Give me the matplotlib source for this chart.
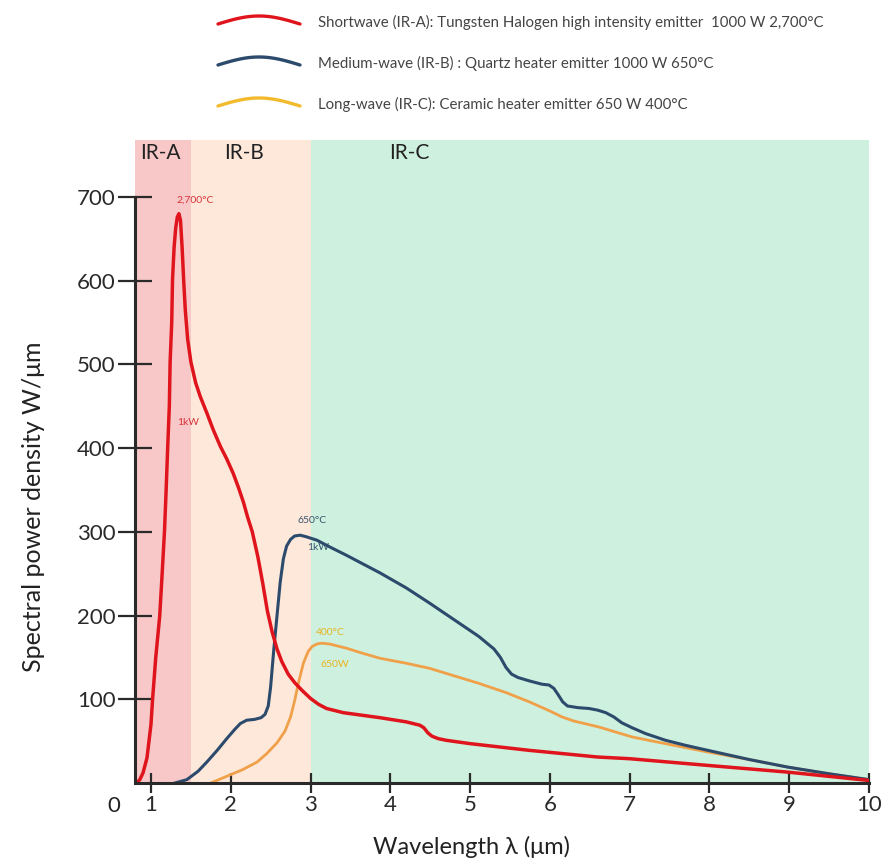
import matplotlib
matplotlib.use("Agg")
import matplotlib.pyplot as plt
import numpy as np

plt.rcParams['font.family'] = ['Lato', 'DejaVu Sans']

# data (wavelength in um, power density in W/um)
red_x = [0.82, 0.86, 0.9, 0.95, 1.0, 1.02, 1.06, 1.11, 1.14, 1.17, 1.19, 1.21, 1.23,
         1.24, 1.26, 1.27, 1.29, 1.31, 1.33, 1.35, 1.37, 1.39, 1.41, 1.43, 1.46, 1.5,
         1.56, 1.62, 1.7, 1.78, 1.87, 1.95, 2.03, 2.1, 2.16, 2.21, 2.27, 2.34, 2.40,
         2.46, 2.52, 2.58, 2.64, 2.72, 2.8, 2.9, 3.0, 3.1, 3.2, 3.41, 3.87, 4.2, 4.37,
         4.42, 4.47, 4.52, 4.6, 4.7, 5.0, 5.74, 6.6, 7.0, 7.98, 8.98, 10.0]
red_y = [0, 4, 12, 30, 70, 100, 150, 200, 250, 302, 350, 402, 450,
         503, 550, 601, 640, 663, 676, 680, 672, 640, 600, 565, 530, 503,
         478, 461, 442, 422, 402, 387, 370, 352, 335, 318, 300, 270, 239,
         205, 180, 160, 145, 130, 120, 110, 101, 94, 89, 84, 78, 73, 69,
         66, 60, 56, 53, 51, 47, 39, 31, 29, 21, 13, 3]

blue_x = [1.3, 1.45, 1.59, 1.7, 1.83, 1.95, 2.05, 2.12, 2.2, 2.3, 2.38, 2.43, 2.47,
          2.5, 2.54, 2.58, 2.62, 2.66, 2.70, 2.75, 2.8, 2.87, 2.95, 3.08, 3.24, 3.45,
          3.87, 4.2, 4.49, 4.8, 5.11, 5.3, 5.38, 5.45, 5.52, 5.6, 5.74, 5.9, 5.99,
          6.05, 6.1, 6.16, 6.22, 6.35, 6.49, 6.6, 6.7, 6.8, 6.9, 7.03, 7.2, 7.45,
          7.7, 7.98, 8.5, 8.98, 9.5, 10.0]
blue_y = [0, 4, 14, 25, 39, 53, 64, 71, 75, 76, 78, 82, 92,
          115, 160, 200, 240, 268, 283, 291, 295, 296, 294, 290, 282, 272,
          251, 233, 215, 195, 175, 160, 150, 138, 130, 126, 122, 118, 117,
          113, 106, 97, 92, 90, 89, 87, 84, 79, 72, 66, 59, 51,
          45, 39, 28, 19, 11, 4]

orange_x = [1.75, 1.9, 2.0, 2.15, 2.33, 2.45, 2.58, 2.68, 2.75, 2.8, 2.85, 2.91, 2.97,
            3.02, 3.08, 3.14, 3.24, 3.45, 3.65, 3.87, 4.2, 4.49, 4.8, 5.11, 5.45, 5.74,
            6.0, 6.15, 6.3, 6.61, 7.03, 7.5, 7.98, 8.5, 8.98, 9.5, 10.0]
orange_y = [0, 6, 10, 16, 25, 35, 48, 62, 79, 98, 120, 143, 157,
            163, 166, 167, 166, 161, 155, 149, 143, 137, 128, 119, 108, 97,
            86, 79, 74, 67, 55, 46, 37, 28, 19, 11, 4]

# infrared bands
band_names = ['IR-A', 'IR-B', 'IR-C']
band_edges = [0.8, 1.5, 3.0, 10.0]
band_label_x = [1.12, 2.17, 4.24]
band_colors = ['#f8c8c8', '#fde8da', '#cef0de']

legend_labels = ['Shortwave (IR-A): Tungsten Halogen high intensity emitter  1000 W 2,700°C',
                 'Medium-wave (IR-B) : Quartz heater emitter 1000 W 650°C',
                 'Long-wave (IR-C): Ceramic heater emitter 650 W 400°C']
legend_colors = ['#e0141c', '#2c4a6c', '#f2bb2e']

x_ticks = [1, 2, 3, 4, 5, 6, 7, 8, 9, 10]
y_ticks = [100, 200, 300, 400, 500, 600, 700]

fig = plt.figure(figsize=(8.93, 8.67), dpi=100)
ax = fig.add_axes([0.1512, 0.0969, 0.8219, 0.7416])

for i in range(3):
    ax.axvspan(band_edges[i], band_edges[i + 1], color=band_colors[i], lw=0, zorder=0)
    ax.text(band_label_x[i], 753, band_names[i], ha='center', va='center', fontsize=15,
            color='#222222')

ax.plot(orange_x, orange_y, color='#f0a048', lw=2.0, zorder=3, solid_joinstyle='round')
ax.plot(blue_x, blue_y, color='#2c4a6c', lw=2.2, zorder=4, solid_joinstyle='round')
ax.plot(red_x, red_y, color='#e0141c', lw=2.5, zorder=5, solid_joinstyle='round')

# small annotations next to the curves
ax.text(1.55, 693, '2,700°C', color='#d8323a', fontsize=7.5, ha='center')
ax.text(1.47, 428, '1kW', color='#d8323a', fontsize=7.5, ha='center')
ax.text(3.02, 310, '650°C', color='#3b5670', fontsize=7.5, ha='center')
ax.text(3.1, 278, '1kW', color='#3b5670', fontsize=7.5, ha='center')
ax.text(3.25, 177, '400°C', color='#e8b420', fontsize=7.5, ha='center')
ax.text(3.3, 138, '650W', color='#e8b420', fontsize=7.5, ha='center')

ax.set_xlim(0.8, 10.0)
ax.set_ylim(0, 768)
ax.set_xticks(x_ticks)
ax.set_yticks(y_ticks)
ax.tick_params(axis='y', direction='inout', length=24, width=1.6, colors='#2a2a2a',
               labelsize=16, pad=2)
ax.tick_params(axis='x', direction='inout', length=14, width=1.6, colors='#2a2a2a',
               labelsize=16, pad=2)
for s in ['top', 'right']:
    ax.spines[s].set_visible(False)
ax.spines['left'].set_bounds(0, 700)
for s in ['left', 'bottom']:
    ax.spines[s].set_linewidth(2.2)
    ax.spines[s].set_color('#2a2a2a')
    ax.spines[s].set_zorder(6)
ax.text(-0.02, -0.02, '0', transform=ax.transAxes, ha='right', va='top', fontsize=16,
        color='#222222')
ax.set_xlabel('Wavelength λ (μm)', fontsize=17, color='#222222')
ax.set_ylabel('Spectral power density W/μm', fontsize=18, color='#222222')
ax.xaxis.set_label_coords(0.459, -0.082)
ax.yaxis.set_label_coords(-0.123, 0.429)

# legend drawn on top with curved swatches
lax = fig.add_axes([0, 0, 1, 1], zorder=10)
lax.set_xlim(0, 893)
lax.set_ylim(867, 0)
lax.axis('off')
t = np.linspace(0, 1, 40)
for i in range(3):
    yc = 22 + i * 41
    lax.plot(218 + 82 * t, yc - 8 * np.sin(np.pi * t) + 2, color=legend_colors[i], lw=2.4,
             solid_capstyle='round')
    lax.text(318, yc, legend_labels[i], fontsize=10.8, color='#444444', va='center',
             ha='left')

fig.savefig('out.png', dpi=100)
